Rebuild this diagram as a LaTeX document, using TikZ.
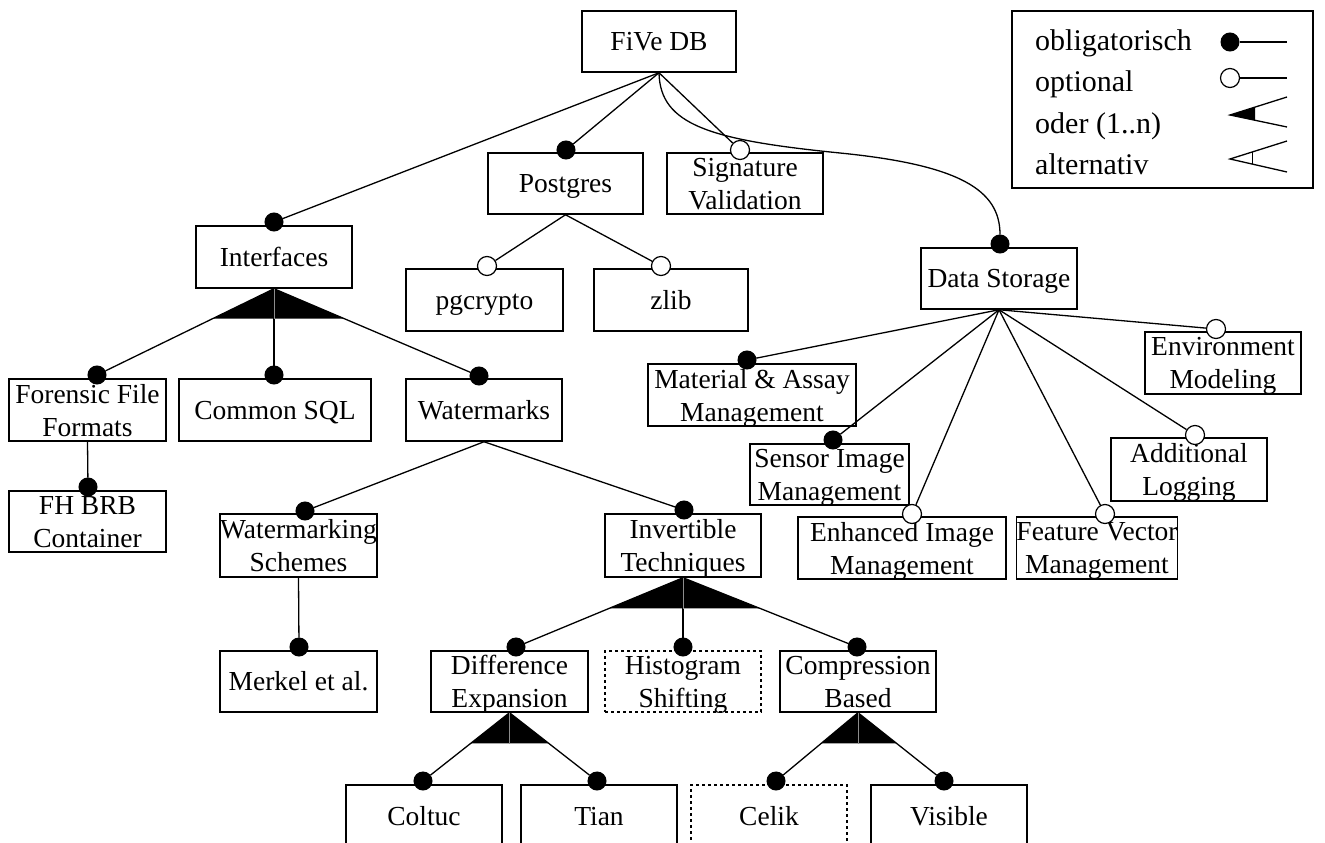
\documentclass[tikz,border=0pt]{standalone}
\usepackage{fontspec}
\setmainfont{Liberation Serif}
\usetikzlibrary{calc}
\newcommand\boxfont{\fontsize{27.5}{33}\selectfont}
\newcommand\legfont{\fontsize{30}{36}\selectfont}
\newcommand\lastl[1]{\smash{#1}}
\begin{document}
\begin{tikzpicture}[x=1pt,y=-1pt,
 fbox/.style={draw, line width=1.5pt, inner sep=0pt, align=center, font=\boxfont, minimum width=156pt, minimum height=62pt},
 dbox/.style={fbox, dash pattern=on 3pt off 3pt, line width=1.3pt},
 one/.style={text height=18.5pt, text depth=0pt},
 mand/.style={circle, fill=black, draw=black, line width=1pt, minimum size=18pt, inner sep=0pt},
 opt/.style={circle, fill=white, draw=black, line width=1.2pt, minimum size=19pt, inner sep=0pt},
 conn/.style={line width=1.3pt},
 mid/.style={draw=black!45, line width=0.8pt},
 legtext/.style={anchor=base west, font=\legfont, inner sep=0pt}]
\useasboundingbox (0,0) rectangle (1325,843);
\clip (0,0) rectangle (1325,843);

% boxes
\node[fbox, one, minimum width=154pt, minimum height=61pt] (five) at (659,41.5) {FiVe DB};
\node[fbox, one, minimum width=155pt, minimum height=61pt] (postgres) at (565.5,183.5) {Postgres};
\node[fbox, minimum height=61pt] (sig) at (745,183.5) {Signature\\\lastl{Validation}};
\node[fbox, one] (interfaces) at (274,257) {Interfaces};
\node[fbox, one, minimum width=157pt] (pgcrypto) at (484.5,300) {pgcrypto};
\node[fbox, one, minimum width=154pt] (zlib) at (671,300) {zlib};
\node[fbox, one, minimum height=61pt] (ds) at (999,278.5) {Data Storage};
\node[fbox, minimum width=157pt] (forensic) at (87.5,410) {Forensic File\\\lastl{Formats}};
\node[fbox, one, minimum width=192pt] (csql) at (275,410) {Common SQL};
\node[fbox, one] (wm) at (484,410) {Watermarks};
\node[fbox, minimum width=208pt] (material) at (752,395) {Material \& Assay\\\lastl{Management}};
\node[fbox] (env) at (1223,363) {Environment\\\lastl{Modeling}};
\node[fbox, minimum width=159pt, minimum height=61pt] (sensor) at (829.5,474.5) {Sensor Image\\\lastl{Management}};
\node[fbox, minimum height=63pt] (additional) at (1189,469.5) {Additional\\\lastl{Logging}};
\node[fbox, minimum width=157pt, minimum height=63pt] (wschemes) at (298.5,545.5) {Watermarking\\\lastl{Schemes}};
\node[fbox, minimum height=63pt] (invertible) at (683,545.5) {Invertible\\\lastl{Techniques}};
\node[fbox, minimum width=208pt] (enhanced) at (902,548) {Enhanced Image\\\lastl{Management}};
\node[fbox, minimum width=158pt] (feature) at (1097,548) {Feature Vector\\\lastl{Management}};
\node[fbox, minimum width=157pt, minimum height=61pt] (fhbrb) at (87.5,521.5) {FH BRB\\\lastl{Container}};
\node[fbox, one, minimum width=157pt, minimum height=61pt] (merkel) at (298.5,681.5) {Merkel et al.};
\node[fbox, minimum width=157pt, minimum height=61pt] (difference) at (509.5,681.5) {Difference\\\lastl{Expansion}};
\node[dbox, minimum height=61pt] (histogram) at (683,681.5) {Histogram\\\lastl{Shifting}};
\node[fbox, minimum height=61pt] (compression) at (858,681.5) {Compression\\\lastl{Based}};
\node[fbox, one] (coltuc) at (424,816) {Coltuc};
\node[fbox, one] (tian) at (599,816) {Tian};
\node[dbox, one] (celik) at (769,816) {Celik};
\node[fbox, one] (visible) at (949,816) {Visible};

% dots
\node[mand] (dPostgres) at (566,150) {};
\node[opt] (dSig) at (740,150) {};
\node[mand] (dInterfaces) at (274,222) {};
\node[opt] (dPg) at (487,266) {};
\node[opt] (dZlib) at (661,266) {};
\node[mand] (dDS) at (1000,244) {};
\node[mand] (dForensic) at (97,375) {};
\node[mand] (dCsql) at (274,375) {};
\node[mand] (dWm) at (479,376) {};
\node[mand] (dMaterial) at (747,360) {};
\node[opt] (dEnv) at (1216,329) {};
\node[mand] (dSensor) at (833,440) {};
\node[opt] (dAdd) at (1195,435) {};
\node[mand] (dWS) at (305,511) {};
\node[mand] (dInv) at (684,510) {};
\node[opt] (dEnh) at (912,514) {};
\node[opt] (dFeat) at (1105,514) {};
\node[mand] (dFH) at (88,487) {};
\node[mand] (dMerkel) at (299,647) {};
\node[mand] (dDiff) at (516,647) {};
\node[mand] (dHist) at (683,647) {};
\node[mand] (dComp) at (857,647) {};
\node[mand] (dColtuc) at (423,781) {};
\node[mand] (dTian) at (597,781) {};
\node[mand] (dCelik) at (776,781) {};
\node[mand] (dVisible) at (944,781) {};

% connectors
\draw[conn] (five.south) -- (dInterfaces);
\draw[conn] (five.south) -- (dPostgres);
\draw[conn] (five.south) -- (dSig);
\draw[conn] (five.south) .. controls (660,125) and (710,140) .. (840,153) .. controls (960,165) and (1000,190) .. (dDS);
\draw[conn] (postgres.south) -- (dPg);
\draw[conn] (postgres.south) -- (dZlib);
\draw[conn] (interfaces.south) -- (dForensic);
\draw[conn] (interfaces.south) -- (dCsql);
\draw[conn] (interfaces.south) -- (dWm);
\draw[conn] (forensic.south) -- (dFH);
\draw[conn] (wm.south) -- (dWS);
\draw[conn] (wm.south) -- (dInv);
\draw[conn] (wschemes.south) -- (dMerkel);
\draw[conn] (ds.south) -- (dMaterial);
\draw[conn] (ds.south) -- (dSensor);
\draw[conn] (ds.south) -- (dEnh);
\draw[conn] (ds.south) -- (dFeat);
\draw[conn] (ds.south) -- (dAdd);
\draw[conn] (ds.south) -- (dEnv);
\draw[conn] (invertible.south) -- (dDiff);
\draw[conn] (invertible.south) -- (dHist);
\draw[conn] (invertible.south) -- (dComp);
\draw[conn] (difference.south) -- (dColtuc);
\draw[conn] (difference.south) -- (dTian);
\draw[conn] (compression.south) -- (dCelik);
\draw[conn] (compression.south) -- (dVisible);

% or-groups
\fill (interfaces.south) -- ($(interfaces.south)!0.345!(dForensic)$) -- ($(interfaces.south)!0.341!(dWm)$) -- cycle;
\draw[mid] (interfaces.south) -- ++(0,30);
\fill (invertible.south) -- ($(invertible.south)!0.443!(dDiff)$) -- ($(invertible.south)!0.443!(dComp)$) -- cycle;
\draw[mid] (invertible.south) -- ++(0,31);
\fill (difference.south) -- ($(difference.south)!0.45!(dColtuc)$) -- ($(difference.south)!0.45!(dTian)$) -- cycle;
\draw[mid] (difference.south) -- ++(0,31);
\fill (compression.south) -- ($(compression.south)!0.45!(dCelik)$) -- ($(compression.south)!0.45!(dVisible)$) -- cycle;
\draw[mid] (compression.south) -- ++(0,31);

% legend
\node[draw, line width=1.5pt, minimum width=301pt, minimum height=177pt, inner sep=0pt] (legend) at (1162.5,99.5) {};
\node[legtext] (lt1) at (1035,51) {obligatorisch};
\node[legtext] (lt2) at (1035,92) {optional};
\node[legtext] (lt3) at (1035,133) {oder (1..n)};
\node[legtext] (lt4) at (1035,174) {alternativ};
\node[mand] (lm) at (1230,42) {};
\coordinate (lmE) at (1287,42);
\draw[conn] (lm) -- (lmE);
\node[opt] (lo) at (1230,78) {};
\coordinate (loE) at (1287,78);
\draw[conn] (lo) -- (loE);
\coordinate (la3) at (1230,115);
\coordinate (la3u) at (1287,97);
\coordinate (la3d) at (1287,127);
\fill (la3) -- ($(la3)!0.44!(la3u)$) -- ($(la3)!0.44!(la3d)$) -- cycle;
\draw[conn] (la3u) -- (la3) -- (la3d);
\coordinate (la4) at (1230,159);
\coordinate (la4u) at (1287,141);
\coordinate (la4d) at (1287,172);
\draw[conn] (la4u) -- (la4) -- (la4d);
\draw[conn] ($(la4)!0.4!(la4u)$) -- ($(la4)!0.4!(la4d)$);
\end{tikzpicture}
\end{document}
